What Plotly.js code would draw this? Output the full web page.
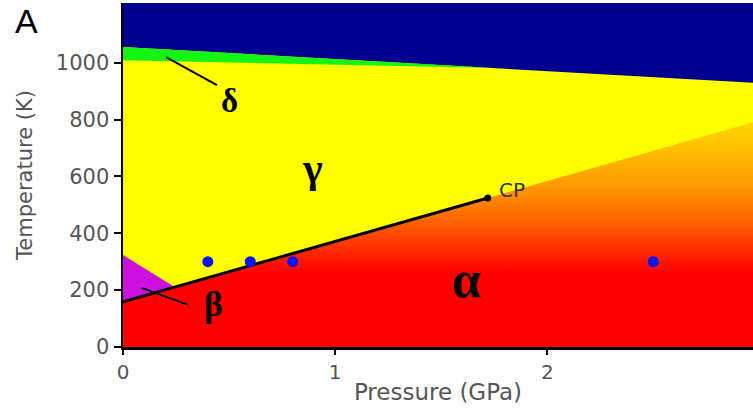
<!DOCTYPE html>
<html>
<head>
<meta charset="utf-8">
<script src="https://cdn.plot.ly/plotly-3.0.1.min.js"></script>
<style>html,body{margin:0;padding:0;background:#fff;}#chart{width:753px;height:413px;}</style>
</head>
<body>
<div id="chart"></div>
<script>
// ---- data (pressure in GPa, temperature in K) ----
const meltP = [0, 3.0];            // liquid / solid boundary
const meltT = [1055, 928];
const deltaP = [0, 1.75];          // delta / gamma boundary (ends at triple point)
const deltaT = [1009, 981];
const alphaGammaP = [0, 1.72];     // first-order alpha-gamma line up to CP
const alphaGammaT = [159, 524];
const crossoverP = [1.72, 3.0];    // continuation above the critical point
const crossoverT = [524, 797];
const betaP = [0, 0, 0.245];       // beta pocket
const betaT = [159, 324, 210];
const cpP = [1.72];
const cpT = [524];
const sampleP = [0.4, 0.6, 0.8, 2.5];
const sampleT = [300, 300, 300, 300];
const xTicks = [0, 1, 2];
const yTicks = [0, 200, 400, 600, 800, 1000];

const xMax = 2.97, yMax = 1210;
const sans = 'DejaVu Sans, Arial, sans-serif';
const serif = 'Liberation Serif, Times New Roman, serif';

const traces = [];
// liquid
traces.push({
  x: [meltP[0], meltP[1], meltP[1], meltP[0]],
  y: [meltT[0], meltT[1], yMax + 50, yMax + 50],
  fill: 'toself', fillcolor: '#00008e', mode: 'lines',
  line: {width: 0}, hoverinfo: 'skip', showlegend: false
});
// delta
traces.push({
  x: [meltP[0], deltaP[1], deltaP[0]],
  y: [meltT[0], deltaT[1], deltaT[0]],
  fill: 'toself', fillcolor: '#14f514', mode: 'lines',
  line: {width: 0}, hoverinfo: 'skip', showlegend: false
});
// alpha (with crossover gradient)
traces.push({
  x: [0, alphaGammaP[0], alphaGammaP[1], crossoverP[1], crossoverP[1]],
  y: [0, alphaGammaT[0], alphaGammaT[1], crossoverT[1], 0],
  fill: 'toself', mode: 'lines', line: {width: 0},
  fillcolor: '#ff0000',
  fillgradient: {
    type: 'vertical', start: 260, stop: 820,
    colorscale: [[0, '#ff0000'], [0.15, '#ff2e00'], [0.35, '#ff6a00'],
                 [0.55, '#ff9a00'], [0.8, '#ffc200'], [1, '#ffdc00']]
  },
  hoverinfo: 'skip', showlegend: false
});
// beta
traces.push({
  x: betaP.concat([betaP[0]]), y: betaT.concat([betaT[0]]),
  fill: 'toself', fillcolor: '#cc10dd', mode: 'lines',
  line: {width: 0}, hoverinfo: 'skip', showlegend: false
});
// alpha-gamma line
traces.push({
  x: alphaGammaP, y: alphaGammaT, mode: 'lines',
  line: {color: '#000', width: 3}, hoverinfo: 'skip', showlegend: false
});
// critical point
traces.push({
  x: cpP, y: cpT, mode: 'markers',
  marker: {color: '#000', size: 7}, hoverinfo: 'skip', showlegend: false
});
// sample points
traces.push({
  x: sampleP, y: sampleT, mode: 'markers',
  marker: {color: '#0a14f0', size: 11}, hoverinfo: 'skip', showlegend: false
});

const greek = (text, x, y, size) => ({
  text: text, x: x, y: y, xref: 'x', yref: 'y', showarrow: false,
  font: {family: serif, size: size, color: '#000', weight: 'bold'}
});

const layout = {
  width: 753, height: 413,
  margin: {l: 123, r: 0, t: 3, b: 66, pad: 0},
  paper_bgcolor: '#ffffff', plot_bgcolor: '#ffff00',
  showlegend: false,
  xaxis: {
    range: [0, xMax], tickvals: xTicks, ticktext: xTicks.map(String),
    showgrid: false, zeroline: false, showline: true, linecolor: '#000', linewidth: 2.5,
    ticks: 'outside', ticklen: 5, tickwidth: 2, tickcolor: '#000',
    tickfont: {family: sans, size: 20, color: '#555'},
    title: {text: 'Pressure (GPa)', font: {family: sans, size: 23, color: '#555'}, standoff: 2},
    fixedrange: true
  },
  yaxis: {
    range: [0, yMax], tickvals: yTicks, ticktext: yTicks.map(String),
    showgrid: false, zeroline: false, showline: true, linecolor: '#000', linewidth: 2.5,
    ticks: 'outside', ticklen: 7, tickwidth: 2, tickcolor: '#000',
    tickfont: {family: sans, size: 21, color: '#555'},
    title: {text: 'Temperature (K)', font: {family: sans, size: 21, color: '#555'}, standoff: 18},
    fixedrange: true
  },
  shapes: [
    {type: 'line', xref: 'x', yref: 'y', x0: 0.203, y0: 1020, x1: 0.443, y1: 921,
     line: {color: '#000', width: 2}},
    {type: 'line', xref: 'x', yref: 'y', x0: 0.088, y0: 208, x1: 0.307, y1: 148,
     line: {color: '#000', width: 2}}
  ],
  annotations: [
    greek('δ', 0.5, 866, 33),
    greek('γ', 0.895, 630, 42),
    greek('α', 1.62, 236, 52),
    greek('β', 0.425, 150, 36),
    {text: 'CP', x: 1.765, y: 552, xref: 'x', yref: 'y', xanchor: 'left', showarrow: false,
     font: {family: sans, size: 20, color: '#333'}},
    {text: 'A', x: -0.153, y: 0.947, xref: 'paper', yref: 'paper', xanchor: 'center', yanchor: 'middle',
     showarrow: false,
     font: {family: 'Liberation Sans, Arial, sans-serif', size: 34, color: '#000'}}
  ]
};

Plotly.newPlot('chart', traces, layout, {staticPlot: true, displayModeBar: false});
</script>
</body>
</html>
